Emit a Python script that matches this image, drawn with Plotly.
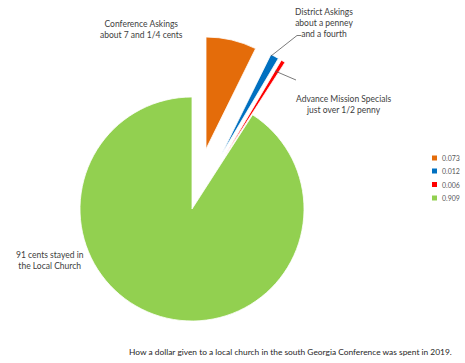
import math
import plotly.graph_objects as go

# ---- data ----
labels = ["0.073", "0.012", "0.006", "0.909"]
values = [0.073, 0.012, 0.006, 0.909]
colors = ["#E46C0A", "#0070C0", "#FF0000", "#92D050"]
pulls = [0.55, 0.55, 0.55, 0.0]
slice_texts = [
    "Conference Askings<br>about 7 and 1/4 cents",
    "District Askings<br>about a penney<br>and a fourth",
    "Advance Mission Specials<br>just over 1/2 penny",
    "91 cents stayed in<br>the Local Church",
]
caption = "How a dollar given to a local church in the south Georgia Conference was spent in 2019."

W, H = 465, 363
CX, CY, R = 192, 209, 112  # pie centre / radius in pixels


def px(x):
    return x / W


def py(y):
    return 1 - y / H


FONT = "Lato"
TRANSP = "rgba(0,0,0,0)"

fig = go.Figure()
total = sum(values)
cum = 0.0
mids = []
for v in values:
    mids.append((cum + v / 2) / total * 2 * math.pi)
    cum += v

# one pie layer per slice, each shifted by its pull along its mid-angle
for i, (p, a) in enumerate(zip(pulls, mids)):
    cx = CX + p * R * math.sin(a)
    cy = CY - p * R * math.cos(a)
    cols = [colors[j] if j == i else TRANSP for j in range(len(values))]
    lcols = ["white" if j == i else TRANSP for j in range(len(values))]
    fig.add_trace(go.Pie(
        labels=labels,
        values=values,
        sort=False,
        direction="clockwise",
        rotation=0,
        marker=dict(colors=cols, line=dict(color=lcols, width=0.8)),
        textinfo="none",
        hoverinfo="label+value",
        showlegend=False,
        domain=dict(x=[px(cx - R), px(cx + R)], y=[py(cy + R), py(cy - R)]),
    ))

# slice labels
label_pos = [(141, 30), (324, 22.5), (343, 105), (50, 260)]
for t, (x, y) in zip(slice_texts, label_pos):
    fig.add_annotation(
        x=px(x), y=py(y), xref="paper", yref="paper", text=t, showarrow=False,
        xanchor="center", yanchor="middle", align="center",
        font=dict(family=FONT, size=8.5, color="#404040"),
    )

# leader lines
fig.add_shape(type="path", xref="paper", yref="paper",
              path=f"M {px(271)},{py(56)} L {px(297)},{py(35.5)} L {px(301)},{py(35.5)}",
              line=dict(color="#595959", width=0.8))
fig.add_shape(type="line", xref="paper", yref="paper",
              x0=px(275), y0=py(71), x1=px(296), y1=py(80),
              line=dict(color="#595959", width=0.8))

# legend (manual, small squares)
rows = [158, 171, 184.5, 198]
for lab, col, y in zip(labels, colors, rows):
    fig.add_shape(type="rect", xref="paper", yref="paper",
                  x0=px(432), x1=px(437), y0=py(y - 2.5), y1=py(y + 2.5),
                  fillcolor=col, line=dict(width=0))
    fig.add_annotation(
        x=px(439.5), y=py(y), xref="paper", yref="paper", text=lab, showarrow=False,
        xanchor="left", yanchor="middle",
        font=dict(family=FONT, size=7, color="#595959"),
    )

# caption
fig.add_annotation(
    x=px(290), y=py(352), xref="paper", yref="paper", text=caption, showarrow=False,
    xanchor="center", yanchor="middle",
    font=dict(family=FONT, size=8.4, color="#262626"),
)

fig.update_layout(
    width=W, height=H,
    margin=dict(l=0, r=0, t=0, b=0),
    paper_bgcolor="white", plot_bgcolor="white",
    showlegend=False,
)

fig.write_html("out.html")
